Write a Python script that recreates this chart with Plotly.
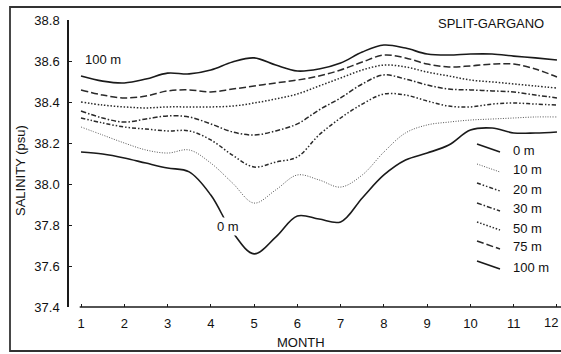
import plotly.graph_objects as go

months = [1, 1.5, 2, 2.5, 3, 3.5, 4, 4.5, 5, 5.5, 6, 6.5, 7, 7.5, 8, 8.5, 9, 9.5, 10, 10.5, 11, 11.5, 12]

sal_0m = [38.156, 38.146, 38.127, 38.102, 38.078, 38.059, 37.946, 37.766, 37.659, 37.741, 37.844, 37.829,
          37.815, 37.932, 38.044, 38.117, 38.151, 38.190, 38.263, 38.273, 38.249, 38.249, 38.254]
sal_10m = [38.278, 38.239, 38.200, 38.166, 38.151, 38.166, 38.102, 38.005, 37.907, 37.971, 38.044, 38.020,
           37.985, 38.044, 38.156, 38.249, 38.288, 38.302, 38.312, 38.317, 38.322, 38.327, 38.327]
sal_20m = [38.322, 38.298, 38.278, 38.268, 38.259, 38.259, 38.215, 38.141, 38.083, 38.107, 38.132, 38.239,
           38.322, 38.390, 38.439, 38.434, 38.405, 38.380, 38.376, 38.390, 38.395, 38.390, 38.385]
sal_30m = [38.356, 38.322, 38.302, 38.317, 38.332, 38.327, 38.293, 38.254, 38.239, 38.259, 38.293, 38.361,
           38.420, 38.488, 38.532, 38.512, 38.483, 38.463, 38.459, 38.454, 38.449, 38.434, 38.420]
sal_50m = [38.400, 38.385, 38.376, 38.371, 38.376, 38.376, 38.376, 38.380, 38.395, 38.415, 38.439, 38.478,
           38.517, 38.556, 38.580, 38.571, 38.546, 38.527, 38.507, 38.498, 38.488, 38.478, 38.468]
sal_75m = [38.459, 38.434, 38.420, 38.429, 38.454, 38.459, 38.449, 38.463, 38.478, 38.493, 38.507, 38.527,
           38.556, 38.595, 38.629, 38.615, 38.585, 38.571, 38.576, 38.585, 38.585, 38.561, 38.522]
sal_100m = [38.527, 38.502, 38.493, 38.512, 38.541, 38.537, 38.556, 38.595, 38.615, 38.580, 38.551, 38.561,
            38.590, 38.644, 38.678, 38.663, 38.634, 38.629, 38.634, 38.634, 38.624, 38.615, 38.605]

depth_labels = ["0 m", "10 m", "20 m", "30 m", "50 m", "75 m", "100 m"]
x_ticks = list(range(1, 13))
y_ticks = [37.4, 37.6, 37.8, 38.0, 38.2, 38.4, 38.6, 38.8]

series = [sal_0m, sal_10m, sal_20m, sal_30m, sal_50m, sal_75m, sal_100m]
styles = [
    dict(color="#1a1a1a", width=1.6, dash="solid"),
    dict(color="#555555", width=1.0, dash="1px,1.5px"),
    dict(color="#2a2a2a", width=1.5, dash="4px,2px,1.5px,2px,1.5px,2px"),
    dict(color="#2a2a2a", width=1.5, dash="5px,2px,1.5px,2px"),
    dict(color="#2a2a2a", width=1.5, dash="1.5px,1.8px"),
    dict(color="#2a2a2a", width=1.5, dash="7px,3px"),
    dict(color="#1a1a1a", width=1.6, dash="solid"),
]

W, H = 561, 354
L, R, T, B = 69, 0, 20, 47
PW, PH = W - L - R, H - T - B
X0 = 1 - 12 / 43.27
X1 = 1 + (PW - 12) / 43.27


def px(x):
    return (x - L) / PW


def py(y):
    return (H - B - y) / PH


FONT = "Arial, Liberation Sans, sans-serif"
TXT = dict(family=FONT, size=13, color="#111111")

fig = go.Figure()
for name, vals, st in zip(depth_labels, series, styles):
    fig.add_trace(go.Scatter(x=months, y=vals, mode="lines", name=name,
                             line=dict(shape="spline", smoothing=1.0, **st),
                             showlegend=False, hoverinfo="skip"))

shapes = []
# x axis line (starts at month 1, separate from the y axis)
shapes.append(dict(type="line", xref="x", yref="paper", x0=0.97, x1=X1, y0=0, y1=0,
                   line=dict(color="#1a1a1a", width=1.5)))
# outer frame
shapes.append(dict(type="rect", xref="paper", yref="paper", x0=px(10), x1=px(563), y0=py(351), y1=py(7),
                   line=dict(color="#333333", width=1.8)))

annotations = []
# custom legend
row_y = [150, 170, 189, 209, 228, 247, 267]
for lab, st, ty in zip(depth_labels, styles, row_y):
    shapes.append(dict(type="line", xref="paper", yref="paper", x0=px(477), x1=px(500),
                       y0=py(ty - 6), y1=py(ty + 2), line=st))
    annotations.append(dict(text=lab, xref="paper", yref="paper", x=px(511), y=py(ty),
                            xanchor="left", yanchor="middle", showarrow=False, font=TXT))

annotations += [
    dict(text="100 m", xref="x", yref="y", x=1.51, y=38.605, showarrow=False,
         xanchor="center", yanchor="middle", font=TXT),
    dict(text="0 m", xref="x", yref="y", x=4.40, y=37.795, showarrow=False, bgcolor="white",
         xanchor="center", yanchor="middle", borderpad=1, font=TXT),
    dict(text="SPLIT-GARGANO", xref="paper", yref="paper", x=px(491), y=py(23), showarrow=False,
         xanchor="center", yanchor="middle", font=TXT),
    dict(text="MONTH", xref="paper", yref="paper", x=px(301), y=py(342), showarrow=False,
         xanchor="center", yanchor="middle", font=TXT),
    dict(text="SALINITY (psu)", xref="paper", yref="paper", x=px(20), y=py(171), showarrow=False,
         xanchor="center", yanchor="middle", textangle=-90, font=TXT),
    # last month label sits at the page edge; kept fully inside the page
    dict(text=str(x_ticks[-1]), xref="paper", yref="paper", x=px(W - 1), y=py(322), showarrow=False,
         xanchor="right", yanchor="middle", font=TXT),
]

fig.update_layout(
    width=W, height=H,
    margin=dict(l=L, r=R, t=T, b=B, pad=0),
    paper_bgcolor="white", plot_bgcolor="white",
    shapes=shapes, annotations=annotations,
    xaxis=dict(range=[X0, X1], tickvals=x_ticks, ticks="inside", ticklen=3, tickwidth=1,
               tickcolor="#1a1a1a", showgrid=False, zeroline=False, showline=False,
               ticklabelstandoff=7, tickfont=TXT),
    yaxis=dict(range=[37.4, 38.8], tickvals=y_ticks, tickformat=".1f", ticks="inside", ticklen=3,
               tickwidth=1, tickcolor="#1a1a1a", showgrid=False, zeroline=False, showline=True,
               linecolor="#1a1a1a", linewidth=1.5, ticklabelstandoff=5, tickfont=TXT),
)

fig.write_html("out.html")
